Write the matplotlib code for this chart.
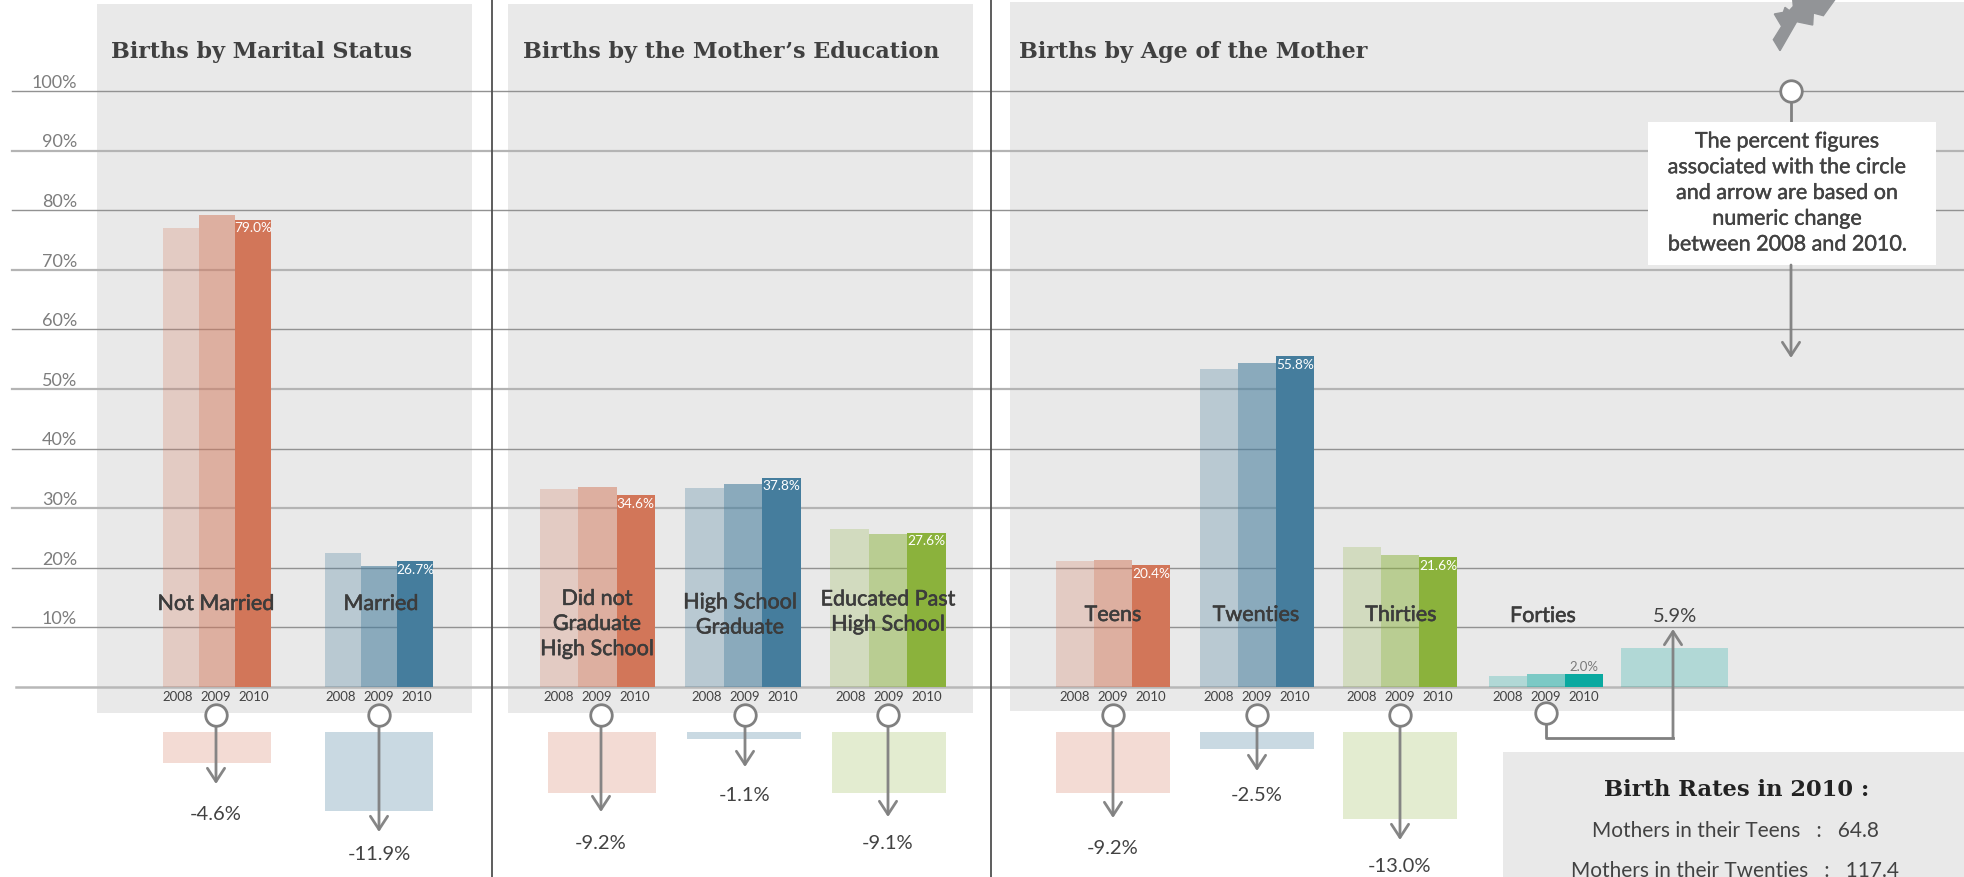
import numpy as np
import matplotlib
matplotlib.use('Agg')
import matplotlib.pyplot as plt
import matplotlib.patheffects as pe
from matplotlib.colors import to_rgba

plt.rcParams['font.family'] = ['Lato', 'DejaVu Sans']

# values (bar heights in percent)
categories = ['Not Married', 'Married', 'Did not\nGraduate\nHigh School', 'High School\nGraduate',
              'Educated Past\nHigh School', 'Teens', 'Twenties', 'Thirties', 'Forties']
values_2008 = [77.0, 22.5, 33.2, 33.4, 26.5, 21.1, 53.4, 23.5, 1.9]
values_2009 = [79.2, 20.3, 33.6, 34.1, 25.7, 21.3, 54.4, 22.1, 2.1]
values_2010 = [78.4, 21.1, 32.2, 35.1, 25.85, 20.45, 55.5, 21.8, 2.1]
labels_2010 = ['79.0%', '26.7%', '34.6%', '37.8%', '27.6%', '20.4%', '55.8%', '21.6%', '2.0%']
changes = [-4.6, -11.9, -9.2, -1.1, -9.1, -9.2, -2.5, -13.0, 5.9]
years = ['2008', '2009', '2010']
y_ticks = [100, 90, 80, 70, 60, 50, 40, 30, 20, 10]
panel_titles = ['Births by Marital Status', 'Births by the Mother\u2019s Education', 'Births by Age of the Mother']
note_text = ('The percent figures\nassociated with the circle\nand arrow are based on\n'
             'numeric change\nbetween 2008 and 2010.')
rates_title = 'Birth Rates in 2010 :'
rates_lines = ['Mothers in their Teens   :   64.8', 'Mothers in their Twenties   :   117.4']

# layout, all in pixels of the 1965x878 picture
group_left = [163, 325, 540, 685, 830, 1056, 1200, 1343, 1489]
bar_w = [36, 36, 38.3, 38.7, 38.7, 38, 38, 38, 38]
change_left = [163, 325, 548, 687, 832, 1056, 1200, 1343, 1621]
change_right = [271, 433, 656, 801, 946, 1170, 1314, 1457, 1728]
circle_x = [216, 379, 601, 745, 888, 1113, 1257, 1400, 1546]
arrow_tip = [785, 833, 813, 768, 818, 819, 772, 841]
change_label_y = [815, 855, 844, 796, 844, 849, 796, 867]
cat_x = [216, 381, 597, 740, 888, 1113, 1256, 1401, 1543]
cat_y = [605, 605, 625, 616, 613, 616, 616, 616, 617]
year_x = [[178, 216, 254], [341, 379, 417], [559, 597, 635], [707, 745, 783], [851, 889, 927],
          [1075, 1113, 1151], [1219, 1257, 1295], [1362, 1400, 1438], [1508, 1546, 1584]]
palette = ['coral', 'blue', 'coral', 'blue', 'green', 'coral', 'blue', 'green', 'teal']
colors = {'coral': '#d27659', 'blue': '#457d9d', 'green': '#8bb23c', 'teal': '#0aa9a0'}
alphas = {'coral': (0.26, 0.5), 'blue': (0.29, 0.58), 'green': (0.24, 0.5), 'teal': (0.25, 0.49)}

GREY_PANEL = '#e9e9e9'
ARROW = '#808080'
TEXT = '#424242'


def y_px(p):
    # picture pixel row -> percent on the chart scale
    return (688 - p) / 5.96


def draw_arrow(x, start, end):
    ax.annotate('', xy=(x, end), xytext=(x, start), zorder=6,
                arrowprops=dict(arrowstyle='->,head_length=0.95,head_width=0.62', color=ARROW,
                                lw=2.0, shrinkA=0, shrinkB=0, mutation_scale=10, alpha=0.95))


fig = plt.figure(figsize=(19.65, 8.78), dpi=100)
ax = fig.add_axes([0, 0, 1, 1])
ax.set_xlim(0, 1965)
ax.set_ylim(y_px(878), y_px(0))
ax.axis('off')

# grey backgrounds
for left, right, top, bottom in [(97, 472, 5, 714), (508, 973, 5, 714), (1010, 1965, 3, 712), (1503, 1965, 753, 878)]:
    ax.bar(left, y_px(top) - y_px(bottom), right - left, y_px(bottom), align='edge', color=GREY_PANEL, zorder=1)

# grid
for i, t in enumerate(y_ticks):
    thick = t in (90, 70, 50, 30)
    ax.plot([12, 1965], [t, t], color='#b4b4b4' if thick else '#929292', lw=1.6 if thick else 1.0, zorder=2)
    ax.text(77, t + 1.55, f'{t}%', ha='right', va='center', fontsize=13, color='#7d7d7d', zorder=6)
ax.plot([16, 1965], [0, 0], color='#b8b8b8', lw=1.8, zorder=2)

for x in (492, 991):
    ax.plot([x, x], [y_px(878), y_px(0)], color='#505050', lw=1.3, zorder=2)

# bars
for i, cat in enumerate(categories):
    base = colors[palette[i]]
    a1, a2 = alphas[palette[i]]
    vals = [values_2008[i], values_2009[i], values_2010[i]]
    for j, (v, a) in enumerate(zip(vals, (a1, a2, 1.0))):
        ax.bar(group_left[i] + j * bar_w[i], v, bar_w[i], align='edge', color=to_rgba(base, a), zorder=3)
        ax.text(year_x[i][j], y_px(697), years[j], ha='center', va='center', fontsize=9.5, color=TEXT, zorder=6)
    # 2010 figure sits inside the bar, except for the tiny Forties bar
    if cat == 'Forties':
        ax.text(year_x[i][2], y_px(667), labels_2010[i], ha='center', va='center', fontsize=9.5, color='#7a7a7a', zorder=6)
    else:
        ax.text(group_left[i] + 2.5 * bar_w[i], values_2010[i] - 1.25, labels_2010[i], ha='center', va='center',
                fontsize=9.8, color='white', zorder=6)
    ax.text(cat_x[i], y_px(cat_y[i]), cat, ha='center', va='center', fontsize=15.5, color='#3c3c3c',
            linespacing=1.32, zorder=6,
            path_effects=[pe.withStroke(linewidth=0.4, foreground='#3c3c3c')])

    # change block, scaled on percent points
    h = abs(changes[i]) * 1.12
    w = change_right[i] - change_left[i]
    if changes[i] < 0:
        ax.bar(change_left[i], h, w, y_px(733) - h, align='edge', color=to_rgba(base, a1), zorder=3)
        ax.plot([circle_x[i]], [y_px(716)], 'o', ms=15.5, mfc='white', mec=ARROW, mew=2, zorder=7)
        draw_arrow(circle_x[i], y_px(727), y_px(arrow_tip[i]))
        ax.text(circle_x[i], y_px(change_label_y[i]), f'{changes[i]}%', ha='center', va='center', fontsize=14.5, color=TEXT, zorder=6)
    else:
        ax.bar(change_left[i], h, w, 0, align='edge', color=to_rgba(base, a1), zorder=3)
        ax.plot([circle_x[i], circle_x[i], 1673], [y_px(716), y_px(739), y_px(739)], color=ARROW, lw=2.0, zorder=6,
                solid_joinstyle='round')
        ax.plot([circle_x[i]], [y_px(714)], 'o', ms=15.5, mfc='white', mec=ARROW, mew=2, zorder=7)
        draw_arrow(1673, y_px(739), y_px(630))
        ax.text(1675, y_px(616), f'{changes[i]}%', ha='center', va='center', fontsize=14.5, color=TEXT, zorder=6)

# panel titles
for x, title in zip((111, 523, 1019), panel_titles):
    ax.text(x, y_px(52), title, ha='left', va='center', fontsize=16, fontweight='bold',
            family='DejaVu Serif', color='#404040', zorder=6)

# note box top right
ax.plot([1791, 1791], [y_px(92), y_px(123)], color=ARROW, lw=2.0, zorder=4)
draw_arrow(1791, y_px(266), y_px(359))
ax.plot([1791], [y_px(92)], 'o', ms=15.5, mfc='white', mec=ARROW, mew=2, zorder=7)
ax.bar(1648, y_px(123) - y_px(266), 288, y_px(266), align='edge', color='white', zorder=5)
ax.text(1787, y_px(194), note_text, ha='center', va='center', fontsize=15.5, color=TEXT,
        linespacing=1.36, zorder=6, path_effects=[pe.withStroke(linewidth=0.3, foreground=TEXT)])

# silhouette clipped by the top of the picture
shape_x = np.array([150, 130, 155, 133, 160, 165, 178, 190, 188, 316, 280, 250, 248, 200]) / 3 + 1730
shape_y = np.array([155, 122, 82, 45, 40, 25, 35, 22, 0, 0, 50, 42, 78, 68]) / 3
ax.fill(shape_x, y_px(shape_y), color='#929497', zorder=4)

# birth rates box
ax.text(1737, y_px(790), rates_title, ha='center', va='center', fontsize=16.3, fontweight='bold',
        family='DejaVu Serif', color='#222222', zorder=6)
ax.text(1735, y_px(831), rates_lines[0], ha='center', va='center', fontsize=15, color=TEXT, zorder=6)
ax.text(1735, y_px(871), rates_lines[1], ha='center', va='center', fontsize=15, color=TEXT, zorder=6)

plt.savefig('out.png', dpi=100)
plt.close()
